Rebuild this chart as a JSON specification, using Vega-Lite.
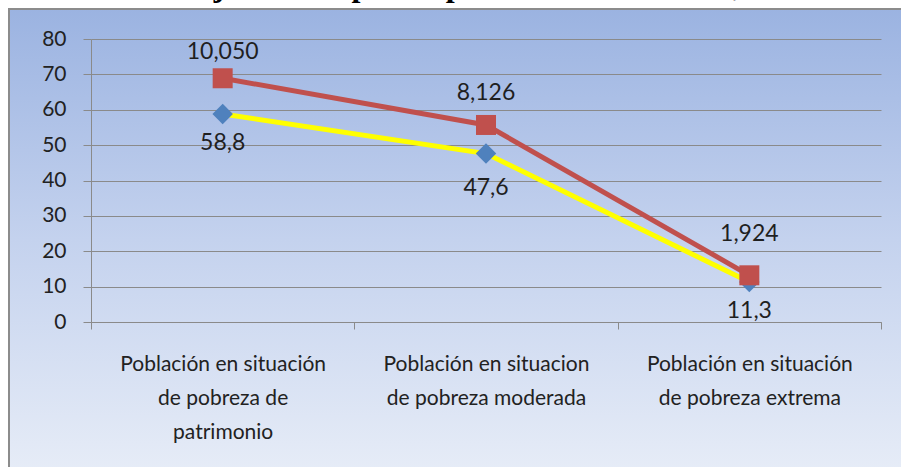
{
  "$schema": "https://vega.github.io/schema/vega-lite/v6.json",
  "width": 895,
  "height": 461,
  "autosize": {"type": "none"},
  "padding": {"left": 9, "top": 9, "right": 0, "bottom": 0},
  "background": "#ffffff",
  "title": {
    "text": "Porcentaje de los tipos de pobreza en Cardonal, 2010.",
    "font": "Liberation Serif",
    "fontSize": 32,
    "fontWeight": "bold",
    "color": "#000000",
    "anchor": "middle",
    "frame": "group",
    "baseline": "alphabetic",
    "offset": 0,
    "dy": 19
  },
  "config": {
    "view": {
      "fill": {
        "gradient": "linear",
        "x1": 0, "y1": 0, "x2": 0, "y2": 1,
        "stops": [
          {"offset": 0, "color": "#9bb3e1"},
          {"offset": 0.5, "color": "#c4d2ee"},
          {"offset": 1, "color": "#e6ecf7"}
        ]
      },
      "stroke": "#8c8c8c",
      "strokeWidth": 2
    },
    "axis": {
      "labelFont": "Lato",
      "labelColor": "#222222",
      "domainColor": "#8a8a8a",
      "tickColor": "#8a8a8a",
      "gridColor": "#8a8a8a",
      "gridOpacity": 1,
      "domainWidth": 1,
      "tickWidth": 1,
      "gridWidth": 1
    }
  },
  "data": {
    "values": [
      {"categoria": "Población en situación de pobreza de patrimonio", "serie": "Población", "valor": 68.9, "etiqueta": "10,050"},
      {"categoria": "Población en situacion de pobreza moderada", "serie": "Población", "valor": 55.7, "etiqueta": "8,126"},
      {"categoria": "Población en situación de pobreza extrema", "serie": "Población", "valor": 13.2, "etiqueta": "1,924"},
      {"categoria": "Población en situación de pobreza de patrimonio", "serie": "Porcentaje", "valor": 58.8, "etiqueta": "58,8"},
      {"categoria": "Población en situacion de pobreza moderada", "serie": "Porcentaje", "valor": 47.6, "etiqueta": "47,6"},
      {"categoria": "Población en situación de pobreza extrema", "serie": "Porcentaje", "valor": 11.3, "etiqueta": "11,3"}
    ]
  },
  "encoding": {
    "x": {
      "field": "categoria",
      "type": "nominal",
      "sort": null,
      "scale": {"type": "band", "range": [82, 872], "paddingInner": 0, "paddingOuter": 0},
      "axis": {
        "title": null,
        "orient": "bottom",
        "offset": -148,
        "labelAngle": 0,
        "labelFontSize": 21,
        "labelLineHeight": 34,
        "labelPadding": 24,
        "labelLimit": 400,
        "tickSize": 7,
        "tickBand": "extent",
        "grid": false,
        "labelExpr": "datum.value == 'Población en situación de pobreza de patrimonio' ? ['Población en situación', 'de pobreza de', 'patrimonio'] : datum.value == 'Población en situacion de pobreza moderada' ? ['Población en situacion', 'de pobreza moderada'] : datum.value == 'Población en situación de pobreza extrema' ? ['Población en situación', 'de pobreza extrema'] : ''"
      }
    },
    "y": {
      "field": "valor",
      "type": "quantitative",
      "scale": {"domain": [0, 80], "range": [313, 30], "nice": false, "zero": true},
      "axis": {
        "title": null,
        "orient": "left",
        "offset": -82,
        "values": [0, 10, 20, 30, 40, 50, 60, 70, 80],
        "labelFontSize": 21,
        "labelPadding": 17,
        "tickSize": 8,
        "grid": true
      }
    }
  },
  "layer": [
    {
      "transform": [{"filter": "datum.serie == 'Porcentaje'"}],
      "mark": {"type": "line", "color": "#ffff00", "strokeWidth": 5}
    },
    {
      "transform": [{"filter": "datum.serie == 'Porcentaje'"}],
      "mark": {"type": "point", "shape": "diamond", "filled": true, "color": "#4f81bd", "size": 420, "opacity": 1}
    },
    {
      "transform": [{"filter": "datum.serie == 'Población'"}],
      "mark": {"type": "line", "color": "#c0504d", "strokeWidth": 5}
    },
    {
      "transform": [{"filter": "datum.serie == 'Población'"}],
      "mark": {"type": "point", "shape": "square", "filled": true, "color": "#c0504d", "size": 400, "opacity": 1}
    },
    {
      "transform": [{"filter": "datum.serie == 'Población'"}],
      "mark": {"type": "text", "font": "Lato", "fontSize": 23, "color": "#1f1f1f", "baseline": "middle",
        "dy": {"expr": "datum.etiqueta == '10,050' ? -26 : datum.etiqueta == '8,126' ? -32 : -41"}},
      "encoding": {"text": {"field": "etiqueta"}}
    },
    {
      "transform": [{"filter": "datum.serie == 'Porcentaje'"}],
      "mark": {"type": "text", "font": "Lato", "fontSize": 23, "color": "#1f1f1f", "baseline": "middle",
        "dy": {"expr": "datum.etiqueta == '47,6' ? 34 : 29"}},
      "encoding": {"text": {"field": "etiqueta"}}
    }
  ]
}
